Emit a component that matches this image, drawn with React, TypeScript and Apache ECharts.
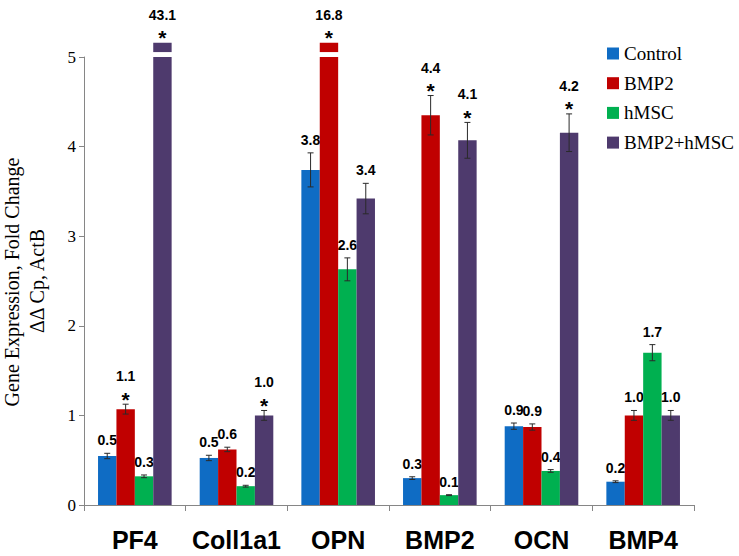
import React, { useEffect, useRef } from "react";
import * as echarts from "echarts";

const categories = ["PF4", "Coll1a1", "OPN", "BMP2", "OCN", "BMP4"];
const seriesNames = ["Control", "BMP2", "hMSC", "BMP2+hMSC"];
const colors = ["#0F6CC4", "#C00000", "#00B050", "#4E3A6D"];

const control = [0.547, 0.525, 3.74, 0.3, 0.88, 0.26];
const bmp2 = [1.07, 0.62, 16.8, 4.35, 0.87, 1.0];
const hmsc = [0.32, 0.21, 2.63, 0.11, 0.38, 1.7];
const combo = [43.1, 1.0, 3.42, 4.07, 4.155, 1.0];

const controlErr = [0.03, 0.03, 0.19, 0.015, 0.035, 0.01];
const bmp2Err = [0.055, 0.025, 0, 0.22, 0.035, 0.055];
const hmscErr = [0.015, 0.01, 0.128, 0.005, 0.015, 0.09];
const comboErr = [0, 0.055, 0.17, 0.2, 0.21, 0.055];

const controlLabels = ["0.5", "0.5", "3.8", "0.3", "0.9", "0.2"];
const bmp2Labels = ["1.1", "0.6", "16.8", "4.4", "0.9", "1.0"];
const hmscLabels = ["0.3", "0.2", "2.6", "0.1", "0.4", "1.7"];
const comboLabels = ["43.1", "1.0", "3.4", "4.1", "4.2", "1.0"];

const controlStar = [false, false, false, false, false, false];
const bmp2Star = [true, false, true, true, false, false];
const hmscStar = [false, false, false, false, false, false];
const comboStar = [true, true, false, true, true, false];

const yTicks = [0, 1, 2, 3, 4, 5];

const YMAX = 5;
const BREAK_GAP = 5.055;
const BREAK_TOP = 5.16;

const groups = [
  { vals: control, errs: controlErr, labels: controlLabels, stars: controlStar },
  { vals: bmp2, errs: bmp2Err, labels: bmp2Labels, stars: bmp2Star },
  { vals: hmsc, errs: hmscErr, labels: hmscLabels, stars: hmscStar },
  { vals: combo, errs: comboErr, labels: comboLabels, stars: comboStar },
];

const SANS = "'Liberation Sans', Arial, sans-serif";
const SERIF = "'Liberation Serif', 'Times New Roman', serif";

export default function App() {
  const ref = useRef<HTMLDivElement>(null);

  useEffect(() => {
    if (!ref.current) return;
    const chart = echarts.init(ref.current, undefined, { renderer: "svg" });

    const series = groups.map((g, s) => ({
      type: "custom",
      name: seriesNames[s],
      itemStyle: { color: colors[s] },
      encode: { x: 0, y: 1 },
      clip: false,
      data: g.vals.map((v, i) => [i, Math.min(v, YMAX)]),
      renderItem: (params: any, api: any) => {
        const i = params.dataIndex;
        const v = g.vals[i];
        const e = g.errs[i];
        const band = api.size([1, 0])[0];
        const bw = band * 0.181;
        const base = api.coord([i, 0]);
        const cx = base[0] + (s - 1.5) * bw;
        const y0 = base[1];
        const broken = v > YMAX;
        const topV = broken ? BREAK_TOP : v;
        const yTop = api.coord([i, topV])[1];
        const children: any[] = [];
        children.push({
          type: "rect",
          shape: { x: cx - bw / 2, y: yTop, width: bw, height: y0 - yTop },
          style: { fill: colors[s] },
        });
        if (broken) {
          const yb1 = api.coord([i, YMAX])[1];
          const yb2 = api.coord([i, BREAK_GAP])[1];
          children.push({
            type: "rect",
            shape: { x: cx - bw / 2 - 1, y: yb2, width: bw + 2, height: yb1 - yb2 },
            style: { fill: "#ffffff" },
          });
        }
        let anchor = yTop;
        if (!broken && e > 0) {
          const yHi = api.coord([i, v + e])[1];
          const yLo = api.coord([i, v - e])[1];
          const ls = { stroke: "#2a2a2a", lineWidth: 1 };
          children.push({ type: "line", shape: { x1: cx, y1: yHi, x2: cx, y2: yLo }, style: ls });
          children.push({ type: "line", shape: { x1: cx - 3, y1: yHi, x2: cx + 3, y2: yHi }, style: ls });
          children.push({ type: "line", shape: { x1: cx - 3, y1: yLo, x2: cx + 3, y2: yLo }, style: ls });
          anchor = yHi;
        }
        const star = g.stars[i];
        if (star) {
          children.push({
            type: "text",
            x: cx,
            y: anchor - 5,
            style: {
              text: "*",
              fill: "#000",
              fontFamily: SANS,
              fontWeight: "bold",
              fontSize: 21,
              align: "center",
              verticalAlign: "middle",
            },
          });
        }
        children.push({
          type: "text",
          x: cx,
          y: anchor - (star ? 28 : 13),
          style: {
            text: g.labels[i],
            fill: "#000",
            fontFamily: SANS,
            fontWeight: "bold",
            fontSize: 14,
            align: "center",
            verticalAlign: "middle",
          },
        });
        return { type: "group", children };
      },
    }));

    chart.setOption({
      animation: false,
      color: colors,
      grid: { left: 84, right: 45, top: 57, bottom: 51, containLabel: false },
      legend: {
        orient: "vertical",
        left: 607,
        top: 44,
        padding: 0,
        itemWidth: 12,
        itemHeight: 12,
        itemGap: 10.7,
        icon: "rect",
        data: seriesNames,
        textStyle: { fontFamily: SERIF, fontSize: 19, color: "#000" },
      },
      xAxis: {
        type: "category",
        data: categories,
        axisLine: { lineStyle: { color: "#868686", width: 1 } },
        axisTick: { show: true, length: 6, lineStyle: { color: "#868686" } },
        axisLabel: {
          interval: 0,
          margin: 22,
          fontFamily: SANS,
          fontWeight: "bold",
          fontSize: 25,
          color: "#000",
        },
        splitLine: { show: false },
      },
      yAxis: {
        type: "value",
        min: yTicks[0],
        max: yTicks[yTicks.length - 1],
        interval: 1,
        axisLine: { show: true, lineStyle: { color: "#868686", width: 1 } },
        axisTick: { show: true, length: 5, lineStyle: { color: "#868686" } },
        axisLabel: { margin: 8, fontFamily: SERIF, fontSize: 17, color: "#000" },
        splitLine: { show: false },
      },
      graphic: [
        {
          type: "text",
          x: 12,
          y: 282,
          rotation: Math.PI / 2,
          style: {
            text: "Gene Expression, Fold Change",
            fill: "#000",
            fontFamily: SERIF,
            fontSize: 20,
            align: "center",
            verticalAlign: "middle",
          },
        },
        {
          type: "text",
          x: 37,
          y: 281,
          rotation: Math.PI / 2,
          style: {
            text: "ΔΔ Cp, ActB",
            fill: "#000",
            fontFamily: SERIF,
            fontSize: 20,
            align: "center",
            verticalAlign: "middle",
          },
        },
      ],
      series,
    });

    return () => chart.dispose();
  }, []);

  return (
    <div
      ref={ref}
      style={{ position: "absolute", left: 0, top: 0, width: 739, height: 556 }}
    />
  );
}
